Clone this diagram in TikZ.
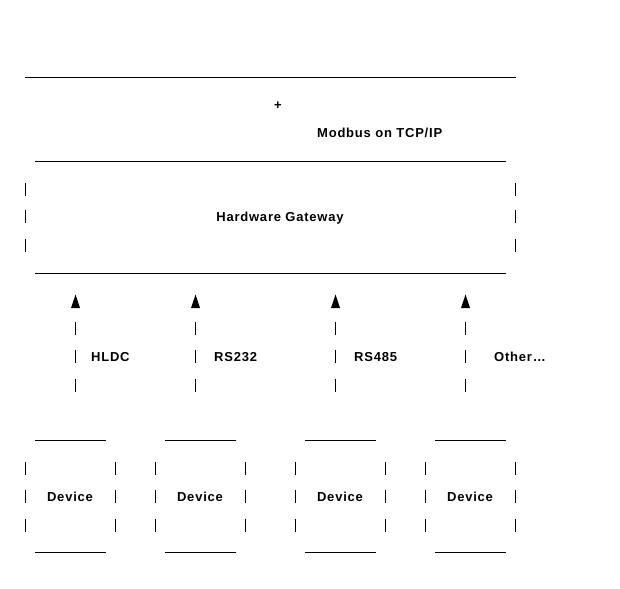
\documentclass[tikz,border=0pt]{standalone}
\usepackage{fontspec}
\setmainfont{Liberation Sans}[LetterSpace=6]
\begin{document}
\begin{tikzpicture}[x=1pt,y=-1pt,
  ln/.style={line width=1pt,black},
  lbl/.style={font=\fontsize{13}{15}\selectfont\bfseries,inner sep=0pt,anchor=base},
  tip/.style={fill=black}]
\useasboundingbox[fill=white] (0,0) rectangle (620,588);
% top bar and protocol
\draw[ln] (25,77.5) -- (516,77.5);
\node[lbl] (plus) at (278,109.5) {+};
\node[lbl,anchor=base west] (modbus) at (317,137.5) {Modbus on TCP/IP};
% gateway
\draw[ln] (35,161.5) -- (506,161.5);
\draw[ln] (35,273.5) -- (506,273.5);
\foreach \y in {189,216.5,245}{
  \draw[ln] (25.5,\y-6.5) -- (25.5,\y+6.5);
  \draw[ln] (515.5,\y-6.5) -- (515.5,\y+6.5);
}
\node[lbl] (gw) at (280,221.5) {Hardware Gateway};
% links
\foreach \x/\t/\n/\o in {75/HLDC/l1/16,195/RS232/l2/19,335/RS485/l3/19,465/{Other\ldots}/l4/29}{
  \fill[tip] (\x+0.5,294.5) -- (\x-4,308) -- (\x+5,308) -- cycle;
  \foreach \y in {328.5,356.5,385}{
    \draw[ln] (\x+0.5,\y-6.5) -- (\x+0.5,\y+6.5);
  }
  \node[lbl,anchor=base west] (\n) at (\x+\o,361.5) {\t};
}
% devices
\foreach \x/\n in {70/d1,200/d2,340/d3,470/d4}{
  \draw[ln] (\x-35,440.5) -- (\x+35.5,440.5);
  \draw[ln] (\x-35,552.5) -- (\x+35.5,552.5);
  \foreach \y in {468.5,496.5,525}{
    \draw[ln] (\x-44.5,\y-6.5) -- (\x-44.5,\y+6.5);
    \draw[ln] (\x+45.5,\y-6.5) -- (\x+45.5,\y+6.5);
  }
  \node[lbl] (\n) at (\x,501.5) {Device};
}
\end{tikzpicture}
\end{document}
